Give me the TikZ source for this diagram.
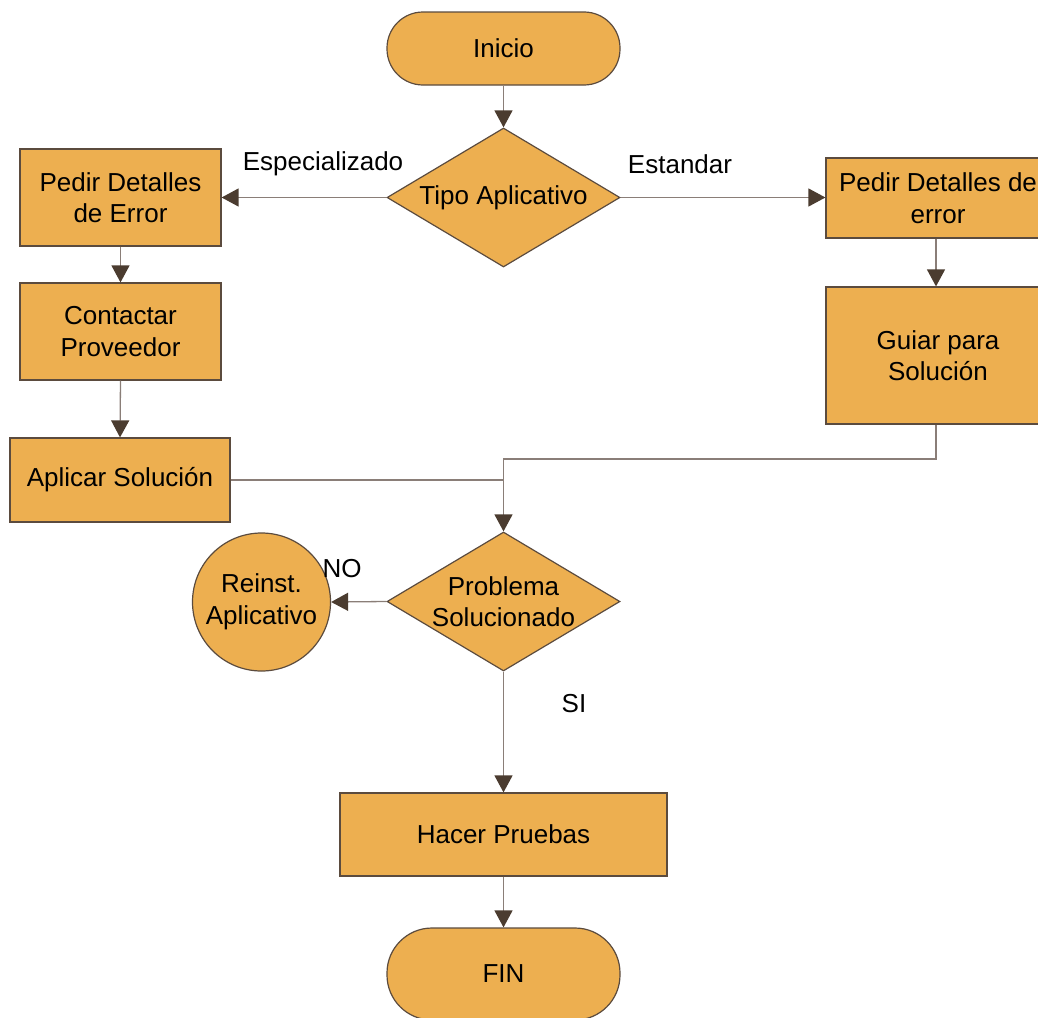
\documentclass[tikz,border=0pt]{standalone}
\usepackage{fontspec}
\setmainfont{Liberation Sans}
\usetikzlibrary{shapes.geometric,arrows.meta}
\definecolor{boxfill}{HTML}{EDAF50}
\definecolor{boxline}{HTML}{5B4B3E}
\definecolor{connline}{HTML}{8A7E78}
\definecolor{tipfill}{HTML}{4B3C30}
\begin{document}
\begin{tikzpicture}[x=1pt,y=-1pt,
  every node/.style={font=\fontsize{26}{31.5}\selectfont, align=center},
  procbox/.style={rectangle, draw=boxline, fill=boxfill, line width=1.2pt, inner sep=0pt},
  termbox/.style={rectangle, rounded corners=36pt, draw=boxline, fill=boxfill, line width=1.2pt, minimum width=233pt, inner sep=0pt},
  decbox/.style={diamond, draw=boxline, fill=boxfill, line width=1.2pt, minimum width=233pt, minimum height=139pt, inner sep=0pt, aspect=1.676},
  circbox/.style={circle, draw=boxline, fill=boxfill, line width=1.2pt, minimum size=138pt, inner sep=0pt},
  conn/.style={draw=connline, line width=1.3pt},
  arr/.style={conn, -{Triangle[length=17pt,width=18pt,fill=tipfill,color=tipfill]}},
  lbl/.style={inner sep=0pt}
]
\useasboundingbox (0,0) rectangle (1038,1017);

\node[termbox, minimum height=73pt] (inicio) at (503.5,48.5) {Inicio};
\node[decbox, label={[lbl]center:Tipo Aplicativo}] (tipo) at (503.5,197.5) {};
\node[procbox, minimum width=201pt, minimum height=97pt] (pde) at (120.5,197.5) {Pedir Detalles\\de Error};
\node[procbox, minimum width=201pt, minimum height=97pt] (contactar) at (120.5,331.5) {Contactar\\Proveedor};
\node[procbox, minimum width=220pt, minimum height=84pt] (aplicar) at (120,480) {Aplicar Solución};
\node[procbox, minimum width=224pt, minimum height=80pt] (pdr) at (938,198) {Pedir Detalles de\\error};
\node[procbox, minimum width=224pt, minimum height=137pt] (guiar) at (938,355.5) {Guiar para\\Solución};
\node[decbox, label={[lbl]center:Problema\\Solucionado}] (problema) at (503.5,601.5) {};
\node[circbox, label={[lbl]center:Reinst.\\Aplicativo}] (reinst) at (261.5,602) {};
\node[procbox, minimum width=327pt, minimum height=83pt] (hacer) at (503.5,834.5) {Hacer Pruebas};
\node[termbox, minimum height=92pt, rounded corners=45pt] (fin) at (503.5,974) {FIN};

\node[lbl] (lesp) at (323,164) {Especializado};
\node[lbl] (lest) at (680,164) {Estandar};
\node[lbl] (lno) at (342,569) {NO};
\node[lbl] (lsi) at (574,704) {SI};

\coordinate (join) at (503.5,459);

\draw[arr] (inicio.south) -- (tipo.north);
\draw[arr] (tipo.west) -- (pde.east);
\draw[arr] (tipo.east) -- (pdr.west |- tipo.east);
\draw[arr] (pde.south) -- (contactar.north);
\draw[arr] (contactar.south) -- (aplicar.north);
\draw[arr] ([xshift=-2pt]pdr.south) -- ([xshift=-2pt]guiar.north);
\draw[arr] ([xshift=-2pt]guiar.south) -- ([xshift=-2pt]guiar.south |- join) -- (join) -- (problema.north);
\draw[conn] (aplicar.east) -- (aplicar.east -| join);
\draw[arr] (problema.west) -- (reinst.east);
\draw[arr] (problema.south) -- (hacer.north);
\draw[arr] (hacer.south) -- (fin.north);
\end{tikzpicture}
\end{document}
